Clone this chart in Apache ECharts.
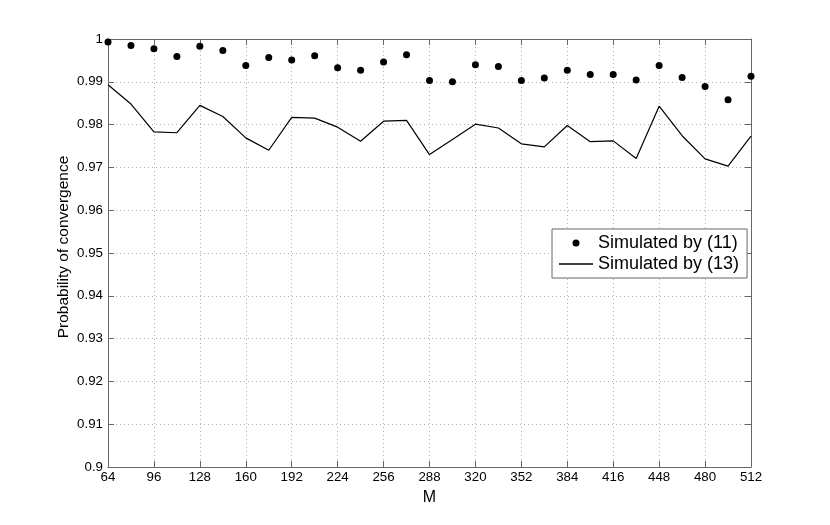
<!DOCTYPE html>
<html>
<head>
<meta charset="utf-8">
<script src="https://cdn.jsdelivr.net/npm/echarts@6/dist/echarts.min.js"></script>
<style>
html,body{margin:0;padding:0;background:#fff;}
#chart{width:830px;height:525px;}
</style>
</head>
<body>
<div id="chart"></div>
<script>
var mValues = [64,80,96,112,128,144,160,176,192,208,224,240,256,272,288,304,320,336,352,368,384,400,416,432,448,464,480,496,512];
var sim11 = [0.9993,0.9985,0.9977,0.9959,0.9983,0.9973,0.9938,0.9957,0.9951,0.9961,0.9933,0.9927,0.9946,0.9963,0.9903,0.9900,0.9940,0.9936,0.9903,0.9909,0.9927,0.9917,0.9917,0.9904,0.9938,0.9910,0.9889,0.9858,0.9913];
var sim13 = [0.9893,0.9848,0.9783,0.9781,0.9845,0.9819,0.9769,0.9740,0.9817,0.9815,0.9794,0.9761,0.9808,0.9810,0.9730,0.9765,0.9801,0.9792,0.9755,0.9748,0.9798,0.9760,0.9762,0.9721,0.9843,0.9774,0.9720,0.9703,0.9773];
var xTicks = {min:64, max:512, step:32};
var yTicks = {min:0.9, max:1, step:0.01};
var legendNames = ['Simulated by (11)','Simulated by (13)'];
var xName = 'M';
var yName = 'Probability of convergence';

var FONT = '"Liberation Sans", Arial, Helvetica, sans-serif';
var axisColor = '#666';
var gridStyle = {show:true, lineStyle:{color:'#b0b0b0', type:[1,3], width:1}};

var chart = echarts.init(document.getElementById('chart'), null, {renderer:'canvas'});
var option = {
  animation:false,
  backgroundColor:'#fff',
  grid:{left:108, right:79, top:39, bottom:58, containLabel:false},
  legend:{
    orient:'vertical', left:552, top:229,
    padding:[4,8,4,7],
    itemWidth:34, itemHeight:7, itemGap:1,
    backgroundColor:'#fff', borderColor:'#666', borderWidth:1,
    textStyle:{fontFamily:FONT, fontSize:18, color:'#000', lineHeight:20},
    data:[
      {name:legendNames[0], icon:'circle', itemStyle:{color:'#000', opacity:1}},
      {name:legendNames[1], icon:'path://M0,0 L34,0 L34,1.4 L0,1.4 Z', itemStyle:{color:'#000'}}
    ]
  },
  xAxis:[{
    type:'value', min:xTicks.min, max:xTicks.max, interval:xTicks.step,
    name:xName, nameLocation:'middle', nameGap:23, nameMoveOverlap:false,
    nameTextStyle:{fontFamily:FONT, fontSize:16, color:'#000'},
    axisLine:{show:true, lineStyle:{color:axisColor, width:1}},
    axisTick:{show:true, inside:true, length:6, lineStyle:{color:axisColor}},
    axisLabel:{fontFamily:FONT, fontSize:13.3, color:'#000', margin:4},
    splitLine:gridStyle
  },{
    type:'value', position:'top', min:xTicks.min, max:xTicks.max, interval:xTicks.step,
    axisLine:{show:true, onZero:false, lineStyle:{color:axisColor, width:1}},
    axisTick:{show:true, inside:true, length:6, lineStyle:{color:axisColor}},
    axisLabel:{show:false}, splitLine:{show:false}
  }],
  yAxis:[{
    type:'value', min:yTicks.min, max:yTicks.max, interval:yTicks.step,
    name:yName, nameLocation:'middle', nameGap:36, nameRotate:90, nameMoveOverlap:false,
    nameTextStyle:{fontFamily:FONT, fontSize:15.5, color:'#000', padding:[0,0,0,12]},
    axisLine:{show:true, lineStyle:{color:axisColor, width:1}},
    axisTick:{show:true, inside:true, length:6, lineStyle:{color:axisColor}},
    axisLabel:{fontFamily:FONT, fontSize:13.3, color:'#000', margin:5},
    splitLine:gridStyle
  },{
    type:'value', position:'right', min:yTicks.min, max:yTicks.max, interval:yTicks.step,
    axisLine:{show:true, onZero:false, lineStyle:{color:axisColor, width:1}},
    axisTick:{show:true, inside:true, length:6, lineStyle:{color:axisColor}},
    axisLabel:{show:false}, splitLine:{show:false}
  }],
  series:[{
    name:legendNames[0], type:'scatter', symbol:'circle', symbolSize:7,
    itemStyle:{color:'#000', opacity:1},
    data:mValues.map(function(m,i){return [m, sim11[i]];}),
    z:3
  },{
    name:legendNames[1], type:'line', symbol:'none', showSymbol:false,
    lineStyle:{color:'#000', width:1.2},
    itemStyle:{color:'#000'},
    data:mValues.map(function(m,i){return [m, sim13[i]];}),
    z:2
  }]
};
chart.setOption(option);
</script>
</body>
</html>
